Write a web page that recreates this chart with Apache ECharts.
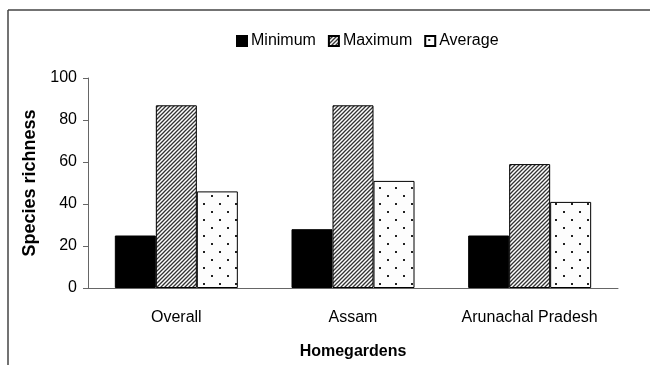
<!DOCTYPE html>
<html>
<head>
<meta charset="utf-8">
<script src="https://cdn.jsdelivr.net/npm/echarts@6/dist/echarts.min.js"></script>
<style>
  html, body { margin: 0; padding: 0; background: #fff; }
  #myChart { width: 650px; height: 365px; }
</style>
</head>
<body>
<div id="myChart"></div>
<script>
var categories = ['Overall', 'Assam', 'Arunachal Pradesh'];
var minimum = [25, 28, 25];
var maximum = [87, 87, 59];
var average = [46, 51, 41];

// hatch pattern for Maximum
function makeHatch() {
    var c = document.createElement('canvas');
    c.width = 4; c.height = 4;
    var ctx = c.getContext('2d');
    ctx.fillStyle = '#fff';
    ctx.fillRect(0, 0, 4, 4);
    ctx.strokeStyle = '#333';
    ctx.lineWidth = 1.3;
    ctx.beginPath();
    ctx.moveTo(-1, 5); ctx.lineTo(5, -1);
    ctx.moveTo(-1, 1); ctx.lineTo(1, -1);
    ctx.moveTo(3, 5); ctx.lineTo(5, 3);
    ctx.stroke();
    return c;
}

// dotted pattern for Average
function makeDots() {
    var c = document.createElement('canvas');
    c.width = 16; c.height = 16;
    var ctx = c.getContext('2d');
    ctx.fillStyle = '#fdfdfd';
    ctx.fillRect(0, 0, 16, 16);
    ctx.fillStyle = '#222';
    ctx.fillRect(3, 3, 2, 2);
    ctx.fillRect(11, 11, 2, 2);
    return c;
}

var hatch = { image: makeHatch(), repeat: 'repeat' };
var dots = { image: makeDots(), repeat: 'repeat' };

var font = '"Liberation Sans", Arial, sans-serif';
var myChart = echarts.init(document.getElementById('myChart'));

var option = {
    animation: false,
    textStyle: { fontFamily: font, color: '#000' },
    graphic: [
        { type: 'line', shape: { x1: 8, y1: 10, x2: 650, y2: 10 }, style: { stroke: '#444', lineWidth: 1.5 } },
        { type: 'line', shape: { x1: 8, y1: 10, x2: 8, y2: 365 }, style: { stroke: '#444', lineWidth: 1.5 } }
    ],
    legend: {
        top: 28,
        left: 231,
        icon: 'rect',
        itemWidth: 10,
        itemHeight: 10,
        itemGap: 12,
        textStyle: { fontSize: 16, color: '#000', fontFamily: font, padding: [0, 0, 0, -1] },
        data: ['Minimum', 'Maximum', 'Average']
    },
    grid: { left: 88, right: 32, top: 78, bottom: 77 },
    xAxis: {
        type: 'category',
        data: categories,
        axisLine: { lineStyle: { color: '#666' } },
        axisTick: { length: 5, lineStyle: { color: '#666' } },
        axisLabel: { fontSize: 16, color: '#000', margin: 22, interval: 0 },
        name: 'Homegardens',
        nameLocation: 'middle',
        nameGap: 56,
        nameTextStyle: { fontSize: 16, fontWeight: 'bold', color: '#000' }
    },
    yAxis: {
        type: 'value',
        min: 0,
        max: 100,
        interval: 20,
        splitLine: { show: false },
        axisLine: { show: true, lineStyle: { color: '#666' } },
        axisTick: { show: true, length: 5, lineStyle: { color: '#666' } },
        axisLabel: { fontSize: 16, color: '#000', margin: 11 },
        name: 'Species richness',
        nameLocation: 'middle',
        nameGap: 49,
        nameTextStyle: { fontSize: 18, fontWeight: 'bold', color: '#000' }
    },
    series: [
        {
            name: 'Minimum', type: 'bar', data: minimum,
            barWidth: 41, barGap: '0%',
            itemStyle: { color: '#000', borderColor: '#000', borderWidth: 1 }
        },
        {
            name: 'Maximum', type: 'bar', data: maximum,
            barWidth: 41, barGap: '0%',
            itemStyle: { color: hatch, borderColor: '#000', borderWidth: 1 }
        },
        {
            name: 'Average', type: 'bar', data: average,
            barWidth: 41, barGap: '0%',
            itemStyle: { color: dots, borderColor: '#000', borderWidth: 1 }
        }
    ]
};

myChart.setOption(option);
</script>
</body>
</html>
